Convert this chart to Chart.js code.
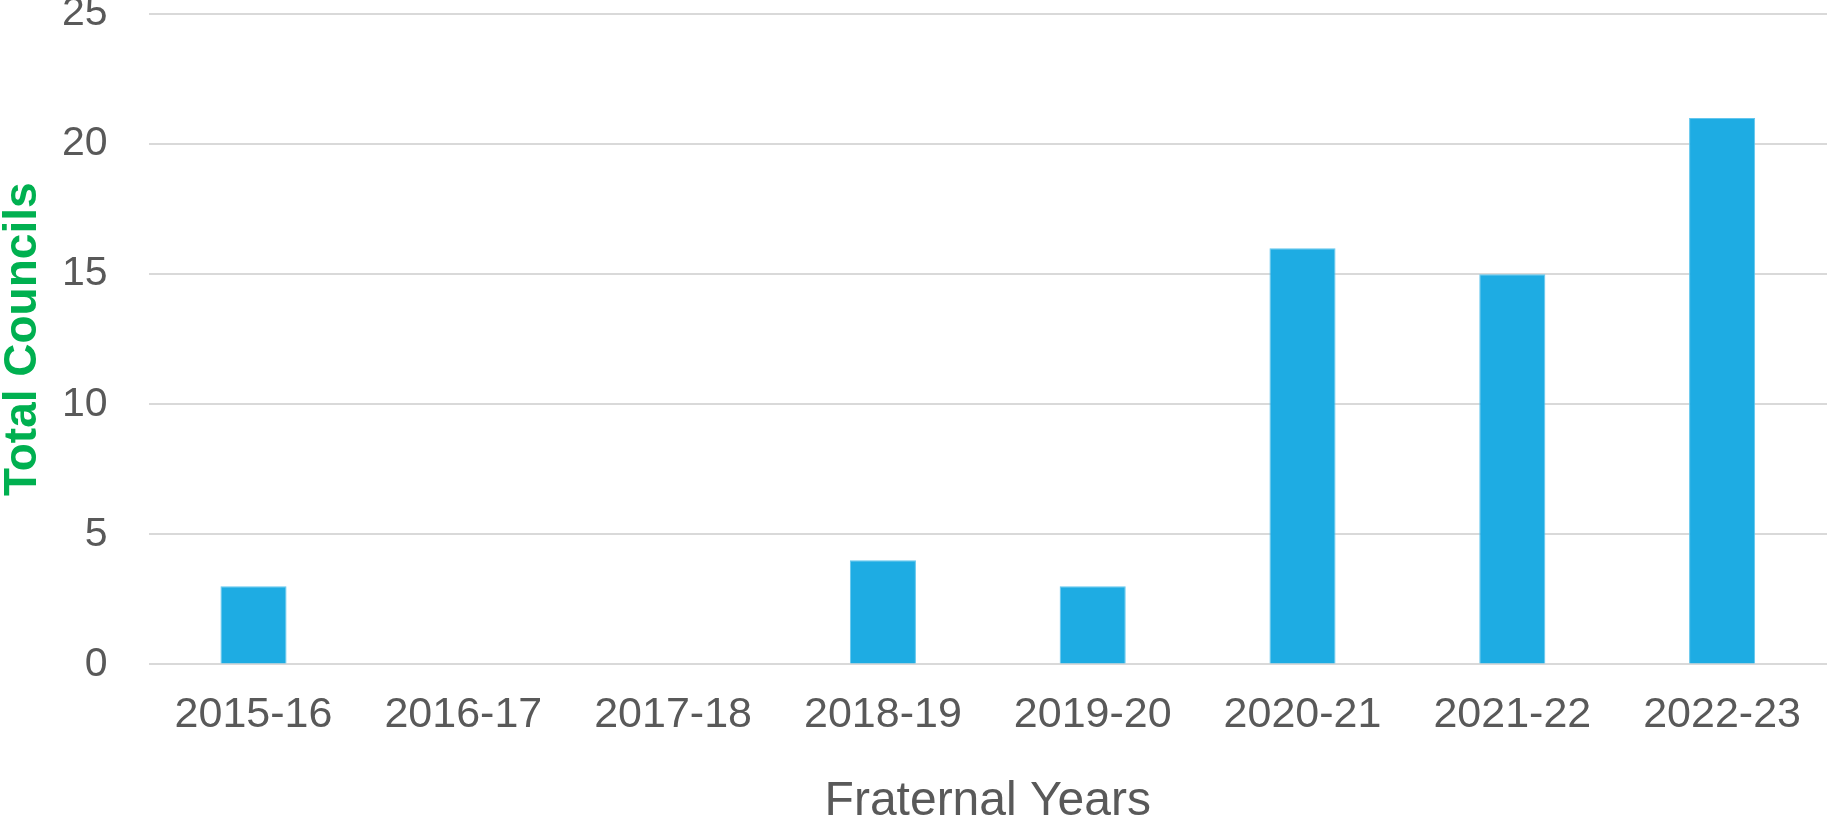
<!DOCTYPE html>
<html lang="en">
<head>
    <meta charset="UTF-8">
    <title>Total Councils by Fraternal Year</title>
    <script src="https://cdn.jsdelivr.net/npm/chart.js"></script>
    <style>
        html, body { margin: 0; padding: 0; background: #ffffff; }
        #wrap { width: 1837px; height: 827px; position: relative; }
    </style>
</head>
<body>
<div id="wrap">
    <canvas id="councilsChart"></canvas>
</div>
<script>
    // data
    const fraternalYears = ['2015-16', '2016-17', '2017-18', '2018-19', '2019-20', '2020-21', '2021-22', '2022-23'];
    const totalCouncils = [3, 0, 0, 4, 3, 16, 15, 21];

    const yMin = 0;
    const yMax = 25;
    const yStep = 5;

    const textGrey = '#595959';
    const gridGrey = '#d9d9d9';
    const barBlue = '#1eace3';
    const titleGreen = '#00b050';

    const ctx = document.getElementById('councilsChart').getContext('2d');
    new Chart(ctx, {
        type: 'bar',
        data: {
            labels: fraternalYears,
            datasets: [{
                label: 'Total Councils',
                data: totalCouncils,
                backgroundColor: barBlue,
                borderColor: '#62c6ee',
                borderWidth: 1,
                barPercentage: 0.315,
                categoryPercentage: 1
            }]
        },
        options: {
            responsive: true,
            maintainAspectRatio: false,
            animation: false,
            layout: {
                padding: { left: 0, right: 10, top: 0, bottom: 0 }
            },
            plugins: {
                legend: { display: false },
                tooltip: { enabled: false }
            },
            scales: {
                x: {
                    // tick marks hidden, tickLength only used as gap below the axis
                    grid: { display: false, drawTicks: true, tickLength: 25 },
                    border: { display: false },
                    ticks: {
                        color: textGrey,
                        padding: 0,
                        font: { family: 'Liberation Sans', size: 43, lineHeight: 1.2 }
                    },
                    title: {
                        display: true,
                        text: 'Fraternal Years',
                        color: textGrey,
                        padding: { top: 37, bottom: 1 },
                        font: { family: 'Liberation Sans', size: 48, lineHeight: 1 }
                    }
                },
                y: {
                    min: yMin,
                    max: yMax,
                    grid: {
                        color: gridGrey,
                        lineWidth: 2,
                        drawTicks: true,
                        tickLength: 41,
                        tickColor: 'rgba(0,0,0,0)'
                    },
                    border: { display: false },
                    ticks: {
                        stepSize: yStep,
                        color: textGrey,
                        padding: 0,
                        font: { family: 'Liberation Sans', size: 41, lineHeight: 0.683 }
                    },
                    title: {
                        display: true,
                        text: 'Total Councils',
                        color: titleGreen,
                        padding: { top: 0, bottom: 16 },
                        font: { family: 'Liberation Sans', size: 46, weight: 'bold', lineHeight: 1 }
                    }
                }
            }
        }
    });
</script>
</body>
</html>
